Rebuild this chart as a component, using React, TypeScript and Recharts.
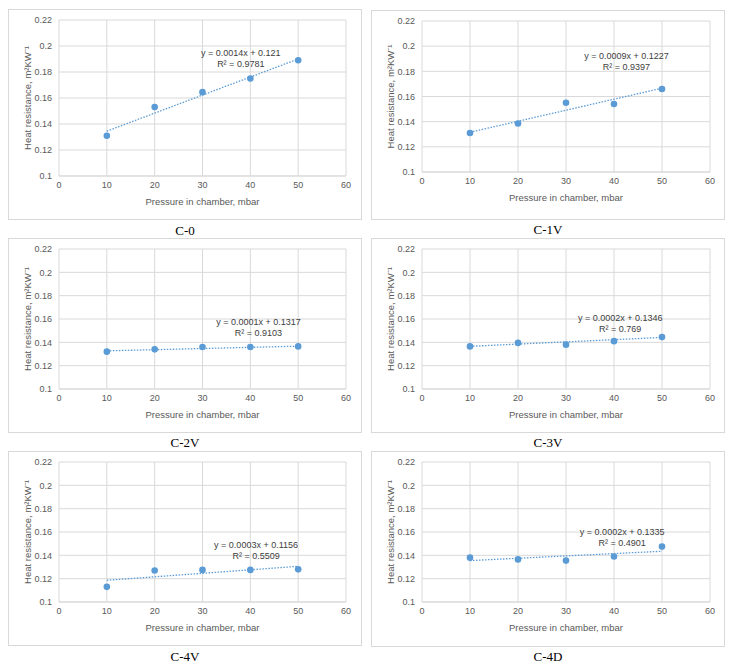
import React from 'react';
import {
  ComposedChart,
  Scatter,
  XAxis,
  YAxis,
  CartesianGrid,
  ReferenceLine,
  ReferenceDot,
} from 'recharts';

// pressure in chamber, mbar
const pressure = [10, 20, 30, 40, 50];
const xTicks = [0, 10, 20, 30, 40, 50, 60];
const yTicks = [0.1, 0.12, 0.14, 0.16, 0.18, 0.2, 0.22];

// heat resistance, m2K/W
const c0 = [0.131, 0.153, 0.1645, 0.175, 0.189];
const c1v = [0.131, 0.1385, 0.155, 0.154, 0.166];
const c2v = [0.132, 0.134, 0.136, 0.136, 0.1365];
const c3v = [0.1365, 0.1395, 0.138, 0.141, 0.1445];
const c4v = [0.113, 0.127, 0.1275, 0.1275, 0.128];
const c4d = [0.138, 0.1365, 0.1355, 0.139, 0.1475];

// linear trend line values at x = 10 and x = 50
const trendC0 = [0.1345, 0.19];
const trendC1v = [0.1316, 0.1666];
const trendC2v = [0.1327, 0.1367];
const trendC3v = [0.1366, 0.1442];
const trendC4v = [0.1186, 0.1306];
const trendC4d = [0.1355, 0.1435];

const captions = ['C-0', 'C-1V', 'C-2V', 'C-3V', 'C-4V', 'C-4D'];
const equations = [
  'y = 0.0014x + 0.121',
  'y = 0.0009x + 0.1227',
  'y = 0.0001x + 0.1317',
  'y = 0.0002x + 0.1346',
  'y = 0.0003x + 0.1156',
  'y = 0.0002x + 0.1335',
];
const rSquared = ['R² = 0.9781', 'R² = 0.9397', 'R² = 0.9103', 'R² = 0.769', 'R² = 0.5509', 'R² = 0.4901'];

const BLUE = '#5b9bd5';
const GRID = '#d9d9d9';
const TEXT = '#595959';
const FONT = '"Liberation Sans", Arial, sans-serif';

type Panel = {
  values: number[];
  trend: number[];
  box: { l: number; t: number; r: number; b: number };
  plot: { l: number; t: number; r: number; b: number };
  eqAt: { x: number; y: number };
  captionY: number;
};

const panels: Panel[] = [
  { values: c0, trend: trendC0, box: { l: 8, t: 9, r: 362, b: 220 }, plot: { l: 59, t: 20, r: 347, b: 177 }, eqAt: { x: 38, y: 0.191 }, captionY: 231 },
  { values: c1v, trend: trendC1v, box: { l: 371, t: 10, r: 725, b: 220 }, plot: { l: 422, t: 21, r: 711, b: 173 }, eqAt: { x: 42.6, y: 0.188 }, captionY: 230 },
  { values: c2v, trend: trendC2v, box: { l: 8, t: 238, r: 362, b: 433 }, plot: { l: 59, t: 249, r: 347, b: 390 }, eqAt: { x: 41.7, y: 0.1532 }, captionY: 443 },
  { values: c3v, trend: trendC3v, box: { l: 371, t: 238, r: 725, b: 433 }, plot: { l: 422, t: 249, r: 711, b: 390 }, eqAt: { x: 41.3, y: 0.1562 }, captionY: 443 },
  { values: c4v, trend: trendC4v, box: { l: 8, t: 451, r: 362, b: 646 }, plot: { l: 59, t: 462, r: 347, b: 603 }, eqAt: { x: 41.2, y: 0.1447 }, captionY: 657 },
  { values: c4d, trend: trendC4d, box: { l: 371, t: 451, r: 725, b: 647 }, plot: { l: 422, t: 462, r: 711, b: 603 }, eqAt: { x: 41.7, y: 0.156 }, captionY: 657 },
];

const Dot = (props: any) => <circle cx={props.cx} cy={props.cy} r={3.3} fill={BLUE} />;

const ChartPanel = ({ panel, index }: { panel: Panel; index: number }) => {
  const { box, plot } = panel;
  const width = box.r - box.l;
  const height = box.b - box.t;
  const yAxisWidth = plot.l - box.l;
  const xAxisHeight = 36;
  const margin = {
    top: plot.t - box.t,
    right: box.r - plot.r,
    left: 0,
    bottom: box.b - plot.b - xAxisHeight,
  };
  const points = pressure.map((p, i) => ({ x: p, y: panel.values[i] }));
  const tick = { fontSize: 9, fill: TEXT, fontFamily: FONT };

  return (
    <>
      <div
        style={{
          position: 'absolute',
          left: box.l,
          top: box.t,
          width,
          height,
          border: `1px solid ${GRID}`,
          boxSizing: 'border-box',
          background: '#fff',
        }}
      >
        <ComposedChart width={width - 2} height={height - 2} margin={{ ...margin, top: margin.top - 1 }} data={points}>
          <CartesianGrid stroke={GRID} strokeWidth={1} />
          <XAxis
            dataKey="x"
            type="number"
            domain={[0, 60]}
            ticks={xTicks}
            height={xAxisHeight}
            tick={tick}
            tickLine={false}
            tickSize={4}
            tickMargin={2}
            axisLine={{ stroke: GRID }}
            label={{ value: 'Pressure in chamber, mbar', position: 'center', dy: 8, style: { fontSize: 9.5, fill: TEXT, fontFamily: FONT } }}
          />
          <YAxis
            dataKey="y"
            type="number"
            domain={[0.1, 0.22]}
            ticks={yTicks}
            width={yAxisWidth - 1}
            tick={tick}
            tickLine={false}
            tickSize={4}
            tickMargin={3}
            axisLine={false}
            label={{ value: 'Heat resistance, m²KW⁻¹', angle: -90, position: 'center', dx: -6, style: { fontSize: 9.5, fill: TEXT, fontFamily: FONT } }}
          />
          <ReferenceLine
            segment={[
              { x: pressure[0], y: panel.trend[0] },
              { x: pressure[pressure.length - 1], y: panel.trend[1] },
            ]}
            stroke={BLUE}
            strokeWidth={1.3}
            strokeDasharray="1.5 1.5"
          />
          <Scatter data={points} dataKey="y" shape={Dot} isAnimationActive={false} />
          <ReferenceDot
            x={panel.eqAt.x}
            y={panel.eqAt.y}
            r={0}
            fill="none"
            stroke="none"
            label={{
              content: (p: any) => {
                const vb = p.viewBox || {};
                const cx = (vb.x ?? 0) + (vb.width ?? 0) / 2;
                const cy = (vb.y ?? 0) + (vb.height ?? 0) / 2;
                return (
                  <g fontFamily={FONT} fontSize={9} fill="#404040" textAnchor="middle">
                    <text x={cx} y={cy - 2}>{equations[index]}</text>
                    <text x={cx} y={cy + 9}>{rSquared[index]}</text>
                  </g>
                );
              },
            }}
          />
        </ComposedChart>
      </div>
      <div
        style={{
          position: 'absolute',
          left: box.l,
          width,
          top: panel.captionY - 9,
          height: 18,
          lineHeight: '18px',
          textAlign: 'center',
          fontFamily: '"Liberation Serif", "Times New Roman", serif',
          fontSize: 13,
          color: '#000',
        }}
      >
        {captions[index]}
      </div>
    </>
  );
};

export default function App() {
  return (
    <div style={{ position: 'absolute', left: 0, top: 0, width: 736, height: 671, background: '#fff' }}>
      {panels.map((panel, i) => (
        <ChartPanel key={captions[i]} panel={panel} index={i} />
      ))}
    </div>
  );
}
